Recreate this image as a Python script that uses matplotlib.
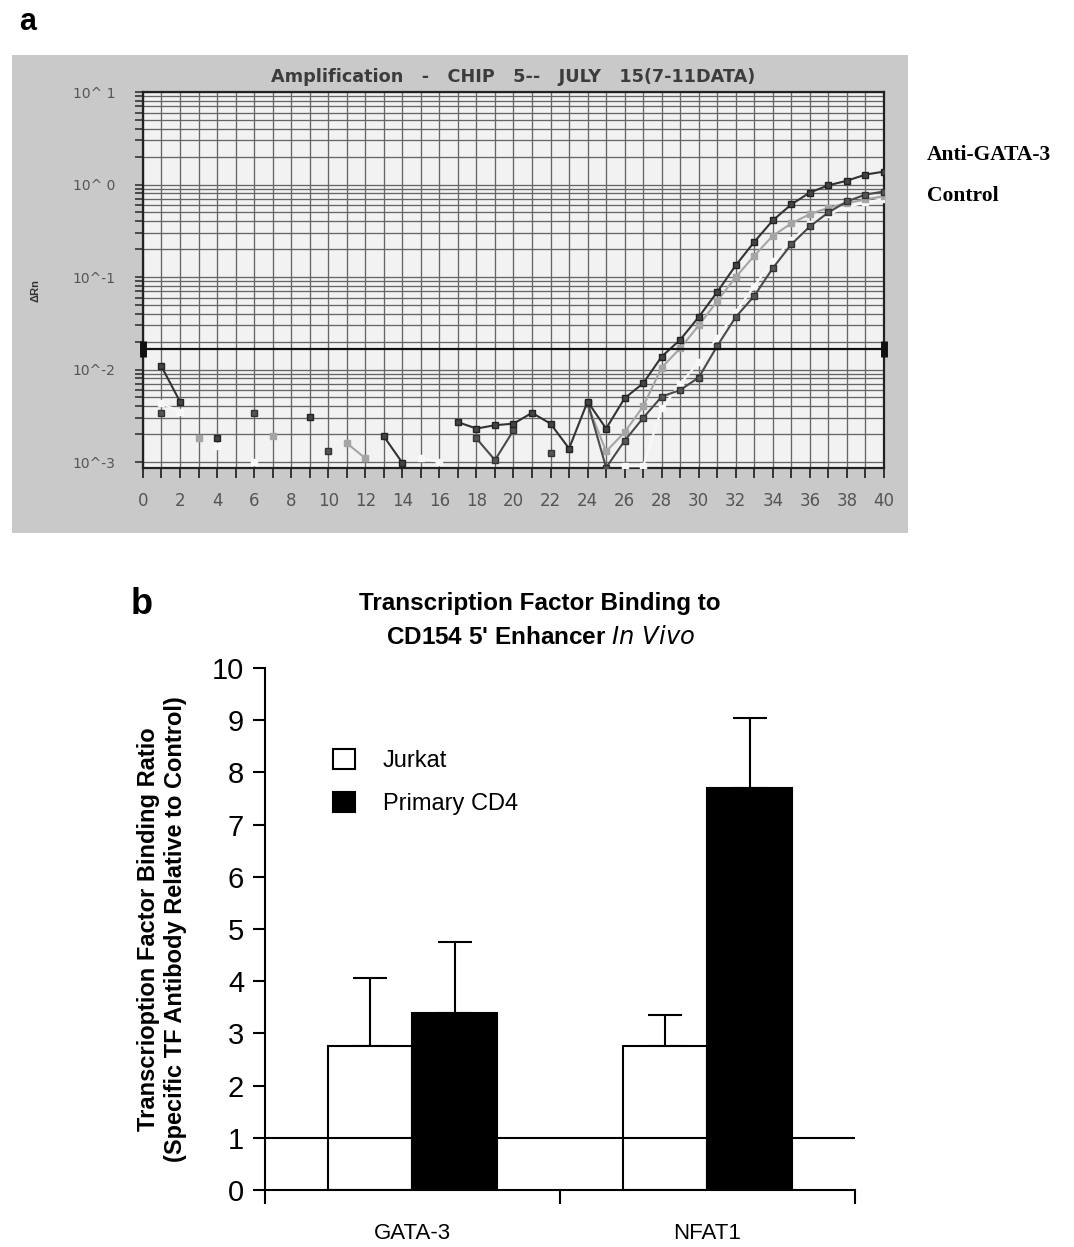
import numpy as np
import matplotlib
matplotlib.use("Agg")
import matplotlib.pyplot as plt
from matplotlib.patches import Rectangle
from matplotlib.ticker import FixedLocator, FixedFormatter, MultipleLocator, NullFormatter

nan = np.nan

# panel a: real-time PCR amplification (delta Rn per cycle, nan = off scale)
cycles = np.arange(0, 41)
anti_gata3_1 = [nan, 0.0108, 0.0045, nan, 0.0018, nan, nan, nan, nan, 0.0031,
                nan, nan, nan, 0.0019, 0.00098, nan, nan, 0.0027, 0.0023, 0.0025,
                0.0026, 0.0034, 0.0026, 0.0014, 0.0045, 0.0023, 0.0049, 0.0071, 0.0138, 0.021,
                0.037, 0.069, 0.134, 0.24, 0.41, 0.61, 0.82, 0.98, 1.10, 1.28, 1.38]
anti_gata3_2 = [nan, 0.0034, nan, nan, nan, nan, 0.0034, nan, nan, nan,
                0.0013, nan, nan, nan, nan, nan, nan, nan, 0.0018, 0.00105,
                0.0022, nan, 0.00125, nan, 0.0044, 0.00087, 0.0017, 0.0030, 0.0051, 0.0060,
                0.0082, 0.018, 0.037, 0.0625, 0.125, 0.226, 0.353, 0.50, 0.656, 0.78, 0.84]
control_1 = [nan, nan, nan, 0.0018, nan, nan, nan, 0.0019, nan, nan,
             nan, 0.0016, 0.0011, nan, nan, nan, nan, nan, nan, nan,
             nan, nan, nan, nan, 0.0042, 0.0013, 0.0021, 0.0040, 0.0105, 0.017,
             0.030, 0.055, 0.10, 0.17, 0.28, 0.38, 0.48, 0.56, 0.63, 0.69, 0.75]
control_2 = [nan, 0.0043, 0.0035, nan, 0.0015, nan, 0.0010, nan, nan, nan,
             nan, nan, nan, nan, nan, 0.0011, 0.0010, nan, nan, nan,
             nan, nan, nan, nan, nan, nan, 0.0009, 0.0009, 0.0038, 0.007,
             0.012, 0.022, 0.042, 0.08, 0.15, 0.25, 0.37, 0.48, 0.57, 0.64, 0.70]
threshold = 0.0165
decade_labels = ["10^-3", "10^-2", "10^-1", "10^ 0", "10^ 1"]

# panel b: binding ratios
targets = ["GATA-3", "NFAT1"]
jurkat = [2.75, 2.75]
jurkat_err = [1.32, 0.60]
primary_cd4 = [3.40, 7.70]
primary_cd4_err = [1.35, 1.35]

plt.rcParams["font.family"] = ["Liberation Sans", "DejaVu Sans"]

fig = plt.figure(figsize=(10.74, 12.47), dpi=100)

# ---------- panel a ----------
fig.add_artist(Rectangle((0.0112, 0.5726), 0.8342, 0.3833, transform=fig.transFigure,
                         facecolor="#c9c9c9", edgecolor="none", zorder=0))
ax1 = fig.add_axes([0.1331, 0.6247, 0.6900, 0.3015])
ax1.set_facecolor("#f2f2f2")
ax1.set_yscale("log")
ax1.set_xlim(0, 40)
ax1.set_ylim(8.62e-4, 10)

ax1.yaxis.set_major_locator(FixedLocator([1e-3, 1e-2, 1e-1, 1, 10]))
ax1.yaxis.set_major_formatter(FixedFormatter(decade_labels))
minor = [m * 10.0 ** e for e in range(-3, 1) for m in range(2, 10)]
ax1.yaxis.set_minor_locator(FixedLocator(minor))
ax1.yaxis.set_minor_formatter(NullFormatter())
ax1.xaxis.set_major_locator(MultipleLocator(2))
ax1.xaxis.set_minor_locator(MultipleLocator(1))

ax1.grid(True, which="both", axis="both", color="#666666", linewidth=0.95)
ax1.set_axisbelow(True)
for sp in ax1.spines.values():
    sp.set_color("#222222")
    sp.set_linewidth(1.6)
ax1.tick_params(axis="y", which="both", direction="out", length=6, width=1.2,
                color="#333333", pad=14)
ax1.tick_params(axis="x", which="both", direction="out", length=7, width=1.4,
                color="#333333", pad=10)
for lab in ax1.get_yticklabels():
    lab.set_family("DejaVu Sans")
    lab.set_fontsize(10)
    lab.set_color("#555555")
for lab in ax1.get_xticklabels():
    lab.set_family("DejaVu Sans")
    lab.set_fontsize(12)
    lab.set_color("#555555")

ax1.plot(cycles, control_2, color="#f8f8f8", marker="s", markersize=5, linewidth=1.5, zorder=3)
ax1.plot(cycles, control_1, color="#a5a5a5", marker="s", markersize=5, linewidth=1.5, zorder=4)
ax1.plot(cycles, anti_gata3_2, color="#4a4a4a", marker="s", markersize=5,
         markerfacecolor="#555555", markeredgecolor="#333333", linewidth=1.5, zorder=5)
ax1.plot(cycles, anti_gata3_1, color="#333333", marker="s", markersize=5,
         markerfacecolor="#444444", markeredgecolor="#222222", linewidth=1.5, zorder=6)

ax1.axhline(threshold, color="#111111", linewidth=1.6, zorder=7)
ax1.plot([0, 40], [threshold, threshold], linestyle="none", marker="|", markersize=11,
         markeredgewidth=5, color="#111111", clip_on=False, zorder=8)

fig.text(0.478, 0.938, "Amplification   -   CHIP   5--   JULY   15(7-11DATA)",
         ha="center", va="center", fontsize=12.7, fontweight="bold", color="#3c3c3c",
         family="DejaVu Sans")
fig.text(0.033, 0.767, "ΔRn", rotation=90, ha="center", va="center",
         fontsize=8, fontweight="bold", color="#333333")
fig.text(0.863, 0.876, "Anti-GATA-3", ha="left", va="center", fontsize=15.5,
         fontweight="bold", family=["Liberation Serif", "DejaVu Serif"])
fig.text(0.863, 0.843, "Control", ha="left", va="center", fontsize=15.5,
         fontweight="bold", family=["Liberation Serif", "DejaVu Serif"])
fig.text(0.018, 0.982, "a", ha="left", va="center", fontsize=22, fontweight="bold")

# ---------- panel b ----------
ax2 = fig.add_axes([0.2467, 0.0457, 0.5494, 0.4186])
x = np.arange(len(targets)) + 0.5
w = 0.288
ax2.bar(x - w / 2, jurkat, w, color="white", edgecolor="black", linewidth=1.5,
        label="Jurkat", zorder=2)
ax2.bar(x + w / 2, primary_cd4, w, color="black", edgecolor="black", linewidth=1.5,
        label="Primary CD4", zorder=2)
ax2.errorbar(x - w / 2, jurkat, yerr=[np.zeros(2), jurkat_err], fmt="none",
             ecolor="black", elinewidth=1.5, capsize=12, capthick=1.5, zorder=1)
ax2.errorbar(x + w / 2, primary_cd4, yerr=[np.zeros(2), primary_cd4_err], fmt="none",
             ecolor="black", elinewidth=1.5, capsize=12, capthick=1.5, zorder=1)
ax2.axhline(1, color="black", linewidth=1.5, zorder=3)

ax2.set_xlim(0, 2)
ax2.set_ylim(0, 10)
ax2.set_yticks(range(0, 11))
ax2.set_xticks([0, 1, 2])
ax2.set_xticklabels([])
ax2.set_xticks(x, minor=True)
ax2.set_xticklabels(targets, minor=True)
ax2.tick_params(axis="x", which="minor", length=0, labelsize=16, pad=24)
ax2.tick_params(axis="x", which="major", length=10, width=1.5)
ax2.tick_params(axis="y", length=9, width=1.5, labelsize=21, pad=6)
ax2.spines["top"].set_visible(False)
ax2.spines["right"].set_visible(False)
ax2.spines["left"].set_linewidth(1.5)
ax2.spines["bottom"].set_linewidth(1.5)

ax2.set_ylabel("Transcrioption Factor Binding Ratio\n(Specific TF Antibody Relative to Control)",
               fontsize=17, fontweight="bold", labelpad=18, linespacing=1.2)
ax2.legend(loc="upper left", bbox_to_anchor=(0.08, 0.885), frameon=False, fontsize=17,
           handlelength=0.9, handleheight=0.9, labelspacing=0.85, handletextpad=1.2)

fig.text(0.503, 0.516, "Transcription Factor Binding to", ha="center", va="center",
         fontsize=17.5, fontweight="bold")
fig.text(0.503, 0.489, "CD154 5' Enhancer $\\it{In\\ Vivo}$", ha="center", va="center",
         fontsize=17.5, fontweight="bold")
fig.text(0.122, 0.515, "b", ha="left", va="center", fontsize=26, fontweight="bold")

fig.savefig("out.png", dpi=100)
